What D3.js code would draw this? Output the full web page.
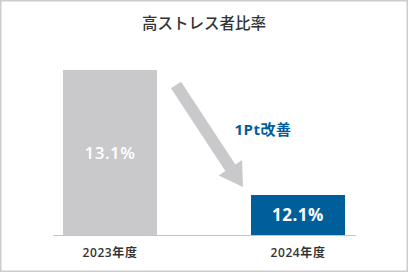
<!DOCTYPE html>
<html>
<head>
<meta charset="utf-8">
<script src="https://cdn.jsdelivr.net/npm/d3@7"></script>
<style>
  body { margin: 0; background: #fff; }
  svg { display: block; font-family: "Open Sans", "Noto Sans CJK JP", sans-serif; }
</style>
</head>
<body>
<svg id="chart"></svg>
<script>
const title = "高ストレス者比率";
const years = ["2023年度", "2024年度"];
const rates = [13.1, 12.1];
const changeLabel = "1Pt改善";

const width = 408, height = 272;
const barColors = ["#c9c9cb", "#005e9b"];

const svg = d3.select("#chart").attr("width", width).attr("height", height);

// frame
svg.append("rect")
  .attr("x", 0.75).attr("y", 0.75)
  .attr("width", width - 1.5).attr("height", height - 1.5)
  .attr("fill", "#fff").attr("stroke", "#cccccc").attr("stroke-width", 1.5);

svg.append("text")
  .attr("x", width / 2).attr("y", 29)
  .attr("text-anchor", "middle")
  .attr("font-size", 15.5).attr("font-weight", 500)
  .attr("fill", "#333")
  .text(title);

const x = d3.scaleBand()
  .domain(years)
  .range([16, 392])
  .paddingInner(0.5)
  .paddingOuter(0.25);

// truncated axis, as in the original
const y = d3.scaleLinear()
  .domain([11.78, 13.1])
  .range([235, 70]);

svg.selectAll(".bar")
  .data(rates)
  .enter()
  .append("rect")
  .attr("class", "bar")
  .attr("x", (d, i) => x(years[i]))
  .attr("y", d => y(d))
  .attr("width", x.bandwidth())
  .attr("height", d => y(11.78) - y(d))
  .attr("fill", (d, i) => barColors[i]);

svg.append("line")
  .attr("x1", 53).attr("x2", 356)
  .attr("y1", 235.5).attr("y2", 235.5)
  .attr("stroke", "#c4c4c4").attr("stroke-width", 1);

svg.selectAll(".val")
  .data(rates)
  .enter()
  .append("text")
  .attr("class", "val")
  .attr("x", (d, i) => x(years[i]) + x.bandwidth() / 2)
  .attr("y", d => (y(d) + y(11.78)) / 2 + 6)
  .attr("text-anchor", "middle")
  .attr("font-size", 17)
  .attr("letter-spacing", 0.5)
  .attr("font-weight", (d, i) => i === 1 ? 700 : 600)
  .attr("fill", "#fff")
  .text(d => d.toFixed(1) + "%");

svg.selectAll(".cat")
  .data(years)
  .enter()
  .append("text")
  .attr("class", "cat")
  .attr("x", d => x(d) + x.bandwidth() / 2)
  .attr("y", 257)
  .attr("text-anchor", "middle")
  .attr("font-size", 12)
  .attr("font-weight", 600)
  .attr("letter-spacing", 0.6)
  .attr("fill", "#333")
  .text(d => d);

// arrow from first bar top toward second bar
const a0 = [176, 85], a1 = [243, 187];
const ang = Math.atan2(a1[1] - a0[1], a1[0] - a0[0]);
const len = Math.hypot(a1[0] - a0[0], a1[1] - a0[1]);
const sw = 6, hw = 14, hl = 23;
const pts = [
  [0, -sw], [len - hl, -sw], [len - hl, -hw], [len, 0],
  [len - hl, hw], [len - hl, sw], [0, sw]
];
svg.append("polygon")
  .attr("points", pts.map(p => p.join(",")).join(" "))
  .attr("transform", `translate(${a0[0]},${a0[1]}) rotate(${ang * 180 / Math.PI})`)
  .attr("fill", "#c9c9cb");

svg.append("text")
  .attr("x", 263).attr("y", 135)
  .attr("text-anchor", "middle")
  .attr("font-size", 15)
  .attr("font-weight", 700)
  .attr("letter-spacing", 0.5)
  .attr("fill", "#005e9b")
  .text(changeLabel);
</script>
</body>
</html>
